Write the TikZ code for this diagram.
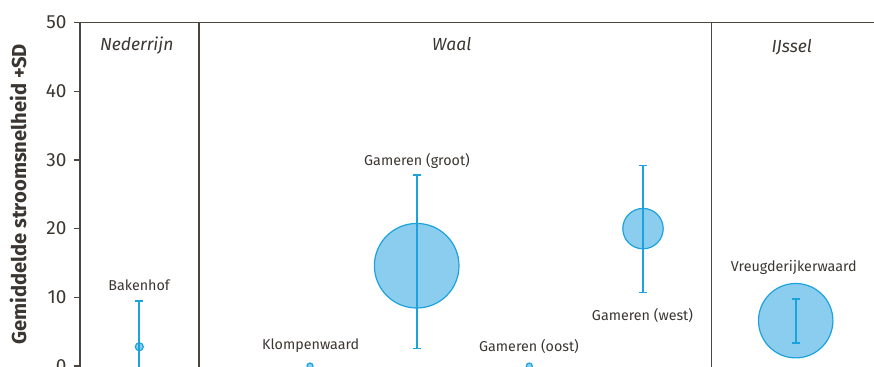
\documentclass[tikz,border=0pt]{standalone}
\usepackage{fontspec}
\setmainfont{Fira Sans}
\usetikzlibrary{positioning}
\definecolor{axisColor}{HTML}{4B443F}
\definecolor{textColor}{HTML}{3B3632}
\definecolor{dotLine}{HTML}{1CA3DD}
\definecolor{dotFill}{HTML}{8BCDEE}
\tikzset{
  dot/.style={draw=dotLine, fill=dotFill, line width=1.2pt},
  bar/.style={dotLine, line width=1.7pt},
  axis/.style={axisColor, line width=1.2pt},
  tickLabel/.style={anchor=east, inner sep=0pt, textColor, font=\fontsize{19}{19}\selectfont},
  site/.style={inner sep=0pt, textColor, font=\fontsize{14.3}{14.3}\selectfont},
  river/.style={inner sep=0pt, textColor, font=\itshape\fontsize{17.5}{17.5}\selectfont}
}

\begin{document}
\begin{tikzpicture}[x=1pt,y=6.87pt]
	\useasboundingbox (0,-0.07) rectangle (874,53.28);
	% frame and river sections
	\draw[axis] (80,-1) -- (80,50) -- (874,50);
	\draw[axis] (199,-1) -- (199,50);
	\draw[axis] (711.7,-1) -- (711.7,50);
	\foreach \v in {0,10,...,50}{
		\draw[axis] (73.5,\v) -- (80,\v);
		\node[tickLabel] (tick\v) at (66.7,\v) {\v};
	}
	\node[rotate=90, textColor, font=\bfseries\fontsize{20.2}{20.2}\selectfont] (ylabel) at (18,24.96) {Gemiddelde stroomsnelheid +SD};
	
	\node[river] (nederrijn) at (136.7,46.7) {Nederrijn};
	\node[river] (waal) at (451.7,46.8) {Waal};
	\node[river] (ijssel) at (791.7,46.4) {IJssel};
	
	% Bakenhof
	\draw[dot] (139.3,2.8) circle [radius=4pt];
	\draw[bar] (139.3,-1) -- (139.3,9.43);
	\draw[bar] (135.3,9.43) -- (143.3,9.43);
	\node[site] (bakenhof) at (139,11.7) {Bakenhof};
	
	% Klompenwaard
	\draw[dot] (310,0) circle [radius=3pt];
	\node[site] (klompenwaard) at (310.7,3.0) {Klompenwaard};
	
	% Gameren (groot)
	\draw[dot] (416.7,14.6) circle [radius=42.3pt];
	\draw[bar] (416.7,2.55) -- (416.7,27.8);
	\draw[bar] (412.7,27.8) -- (420.7,27.8);
	\draw[bar] (412.7,2.55) -- (420.7,2.55);
	\node[site] (groot) at (417,29.8) {Gameren (groot)};
	
	% Gameren (oost)
	\draw[dot] (529.3,0) circle [radius=3pt];
	\node[site] (oost) at (529,2.83) {Gameren (oost)};
	
	% Gameren (west)
	\draw[dot] (643,20) circle [radius=20.2pt];
	\draw[bar] (643,10.7) -- (643,29.2);
	\draw[bar] (639,29.2) -- (647,29.2);
	\draw[bar] (639,10.7) -- (647,10.7);
	\node[site] (west) at (642.5,7.35) {Gameren (west)};
	
	% Vreugderijkerwaard
	\draw[dot] (795.7,6.6) circle [radius=37.2pt];
	\draw[bar] (795.7,3.4) -- (795.7,9.8);
	\draw[bar] (791.7,9.8) -- (799.7,9.8);
	\draw[bar] (791.7,3.4) -- (799.7,3.4);
	\node[site] (vreugd) at (793.8,14.4) {Vreugderijkerwaard};
\end{tikzpicture}
\end{document}
